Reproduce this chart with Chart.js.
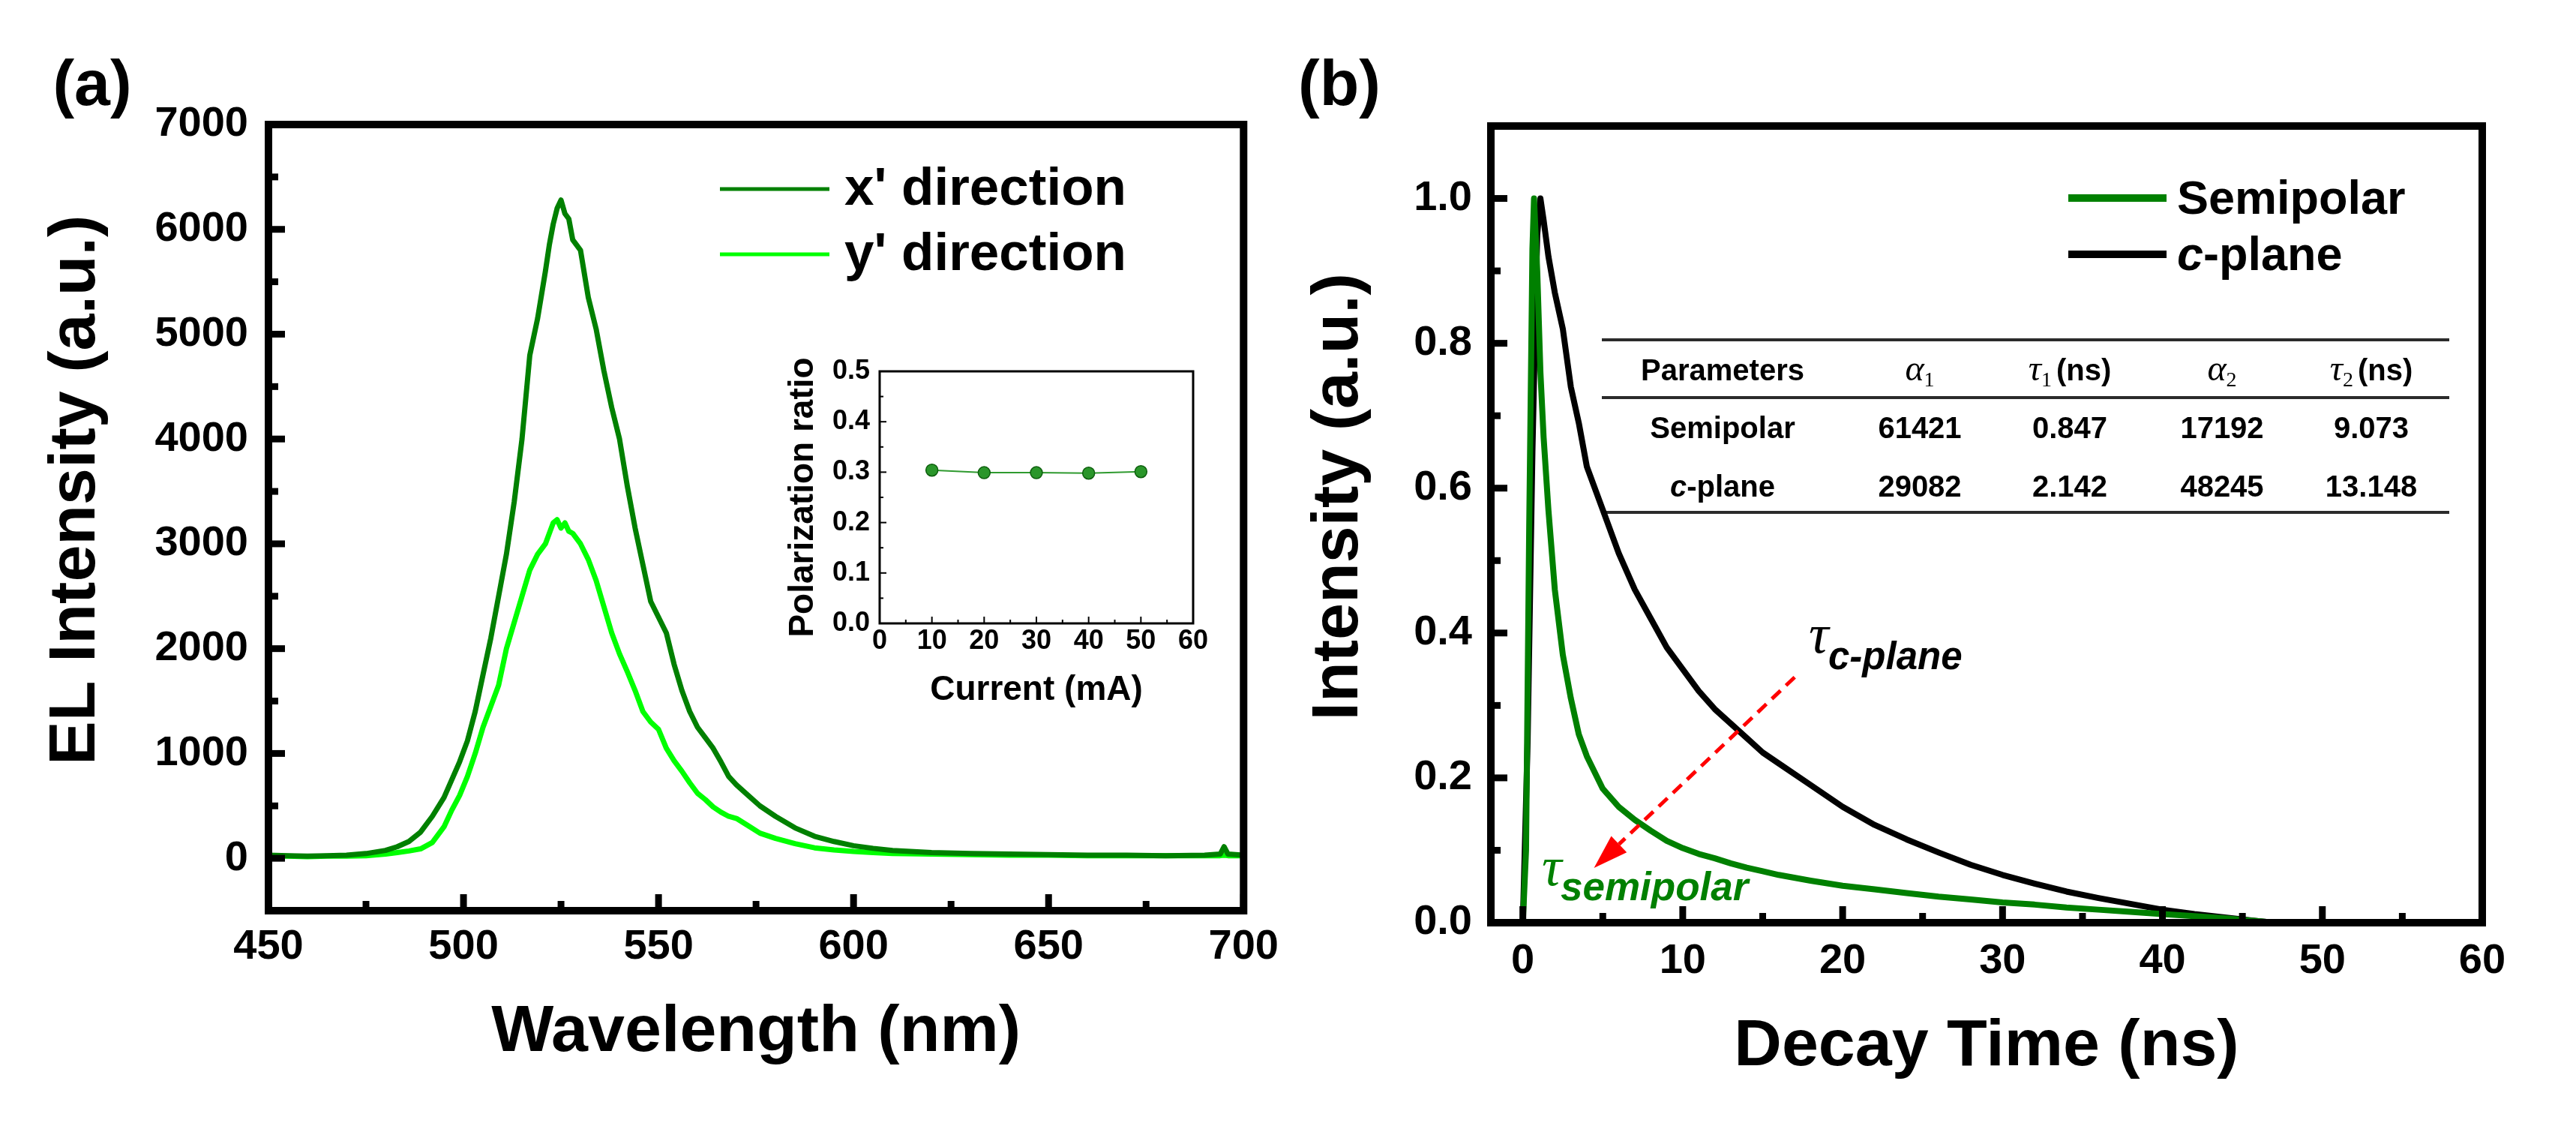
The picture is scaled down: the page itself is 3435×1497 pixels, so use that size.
<!DOCTYPE html>
<html lang="en">
<head>
<meta charset="UTF-8">
<title>EL spectra and TRPL decay</title>
<script src="https://cdn.jsdelivr.net/npm/chart.js"></script>
<style>
  body { margin: 0; background: #fff; }
  #wrap { position: relative; width: 3435px; height: 1497px; overflow: hidden; background: #fff; }
  canvas { position: absolute; }
</style>
</head>
<body>
<div id="wrap">
  <canvas id="elChart" width="1720" height="1497" style="left:0;top:0"></canvas>
  <canvas id="insetChart" width="620" height="540" style="left:1000px;top:440px"></canvas>
  <canvas id="decayChart" width="1715" height="1497" style="left:1720px;top:0"></canvas>
</div>
<script>
const SANS = '"Liberation Sans", Arial, Helvetica, sans-serif';
const SERIF = '"Liberation Serif", "Times New Roman", serif';

// (a) EL spectra
const wavelength = [450, 455, 460, 465, 470, 475, 480, 483, 486, 489, 492, 495, 497, 499, 501, 503, 505, 507, 509, 511,
  513, 515, 517, 519, 521, 522, 523, 524, 525, 526, 527, 528, 529, 530, 532, 534, 536, 538, 540, 542,
  544, 546, 548, 550, 552, 554, 556, 558, 560, 562, 564, 566, 568, 570, 573, 576, 580, 585, 590, 595,
  600, 605, 610, 620, 630, 640, 650, 660, 670, 680, 690, 694, 695, 696, 700];
const xDirection = [30, 25, 20, 25, 30, 45, 75, 110, 160, 250, 400, 580, 750, 920, 1120, 1400, 1750, 2100, 2500, 2900,
  3400, 4000, 4800, 5150, 5600, 5850, 6050, 6200, 6280, 6150, 6100, 5900, 5850, 5800, 5350, 5050, 4650, 4300, 4000, 3550,
  3150, 2800, 2450, 2300, 2150, 1850, 1600, 1400, 1250, 1150, 1050, 920, 780, 700, 600, 500, 400, 290, 210, 160,
  120, 95, 75, 55, 45, 40, 35, 30, 30, 25, 30, 40, 110, 40, 30];
const yDirection = [20, 20, 15, 20, 20, 25, 40, 55, 70, 90, 150, 300, 460, 600, 780, 1000, 1250, 1450, 1650, 2000,
  2250, 2500, 2750, 2900, 3000, 3100, 3200, 3230, 3150, 3200, 3120, 3100, 3050, 3000, 2850, 2650, 2400, 2150, 1950, 1780,
  1600, 1400, 1300, 1230, 1050, 930, 830, 720, 620, 560, 490, 440, 400, 380, 310, 240, 190, 140, 100, 80,
  65, 55, 45, 40, 35, 30, 30, 25, 25, 25, 25, 25, 30, 25, 25];
const elTicksX = [450, 500, 550, 600, 650, 700];
const elTicksY = [0, 1000, 2000, 3000, 4000, 5000, 6000, 7000];

// inset: polarization ratio vs current
const current = [10, 20, 30, 40, 50];
const polRatio = [0.304, 0.299, 0.299, 0.298, 0.301];
const insetTicksX = [0, 10, 20, 30, 40, 50, 60];
const insetTicksY = [0, 0.1, 0.2, 0.3, 0.4, 0.5];

// (b) decay curves
const semiTime = [0, 0.2, 0.4, 0.6, 0.7, 0.9, 1.1, 1.3, 1.6, 2.0, 2.5, 3.0, 3.5, 4.0, 5.0, 6.0, 7.0, 8.0, 9.0, 10,
  11, 12, 13, 14, 15, 16, 18, 20, 22, 24, 26, 28, 30, 32, 34, 36, 38, 40, 42, 44, 45, 46, 47];
const semipolar = [0, 0.1, 0.55, 0.93, 1.0, 0.9, 0.76, 0.67, 0.57, 0.46, 0.37, 0.31, 0.26, 0.23, 0.185, 0.16, 0.142, 0.127, 0.113, 0.103,
  0.095, 0.089, 0.082, 0.076, 0.071, 0.066, 0.058, 0.051, 0.046, 0.041, 0.036, 0.032, 0.028, 0.025, 0.021, 0.018, 0.015, 0.012, 0.009, 0.006, 0.004, 0.002, 0];
const cTime = [0, 0.3, 0.6, 0.9, 1.1, 1.3, 1.6, 2.0, 2.5, 3.0, 3.5, 4.0, 5.0, 6.0, 7.0, 8.0, 9.0, 10, 11, 12,
  13, 14, 15, 16, 18, 20, 22, 24, 26, 28, 30, 32, 34, 36, 38, 40, 42, 44, 46, 47];
const cPlane = [0, 0.25, 0.65, 0.95, 1.0, 0.97, 0.92, 0.87, 0.82, 0.74, 0.69, 0.63, 0.57, 0.51, 0.46, 0.42, 0.38, 0.35, 0.32, 0.295,
  0.275, 0.255, 0.235, 0.22, 0.19, 0.16, 0.135, 0.115, 0.097, 0.08, 0.066, 0.054, 0.043, 0.034, 0.026, 0.018, 0.012, 0.007, 0.002, 0];
const decayTicksX = [0, 10, 20, 30, 40, 50, 60];
const decayTicksY = [0, 0.2, 0.4, 0.6, 0.8, 1.0];

// fit parameters table
const tableRows = ['Semipolar', 'c-plane'];
const alpha1 = ['61421', '29082'];
const tau1 = ['0.847', '2.142'];
const alpha2 = ['17192', '48245'];
const tau2 = ['9.073', '13.148'];

// red arrow between the two decay curves: [time, intensity]
const arrowFrom = [17.0, 0.339];
const arrowTo = [4.45, 0.0755];

function pts(xs, ys) { return xs.map((v, i) => ({ x: v, y: ys[i] })); }
function mids(arr) { const m = []; for (let i = 1; i < arr.length; i++) m.push((arr[i - 1] + arr[i]) / 2); return m; }
function fixTicks(list) { return s => { s.ticks = list.map(v => ({ value: v })); }; }

function drawRich(ctx, parts, x, y, align) {
  let w = 0;
  parts.forEach(p => { ctx.font = p.f; p.w = ctx.measureText(p.t).width; w += p.w + (p.gap || 0); });
  let cx = align === 'center' ? x - w / 2 : x;
  ctx.textAlign = 'left';
  ctx.textBaseline = 'alphabetic';
  parts.forEach(p => {
    ctx.font = p.f;
    ctx.fillStyle = p.c || '#000';
    ctx.fillText(p.t, cx, y + (p.dy || 0));
    cx += p.w + (p.gap || 0);
  });
}

// box frame + inward ticks on bottom and left axes
const frameTicks = {
  id: 'frameTicks',
  afterDraw(chart, args, o) {
    const { ctx, chartArea: a } = chart;
    const sx = chart.scales.x, sy = chart.scales.y;
    ctx.save();
    ctx.strokeStyle = '#000';
    ctx.lineCap = 'butt';
    ctx.lineWidth = o.tickWidth;
    const xt = (v, len) => { const p = sx.getPixelForValue(v); ctx.beginPath(); ctx.moveTo(p, a.bottom); ctx.lineTo(p, a.bottom - len); ctx.stroke(); };
    const yt = (v, len) => { const p = sy.getPixelForValue(v); ctx.beginPath(); ctx.moveTo(a.left, p); ctx.lineTo(a.left + len, p); ctx.stroke(); };
    o.xMajor.forEach(v => xt(v, o.major));
    mids(o.xMajor).forEach(v => xt(v, o.minor));
    o.yMajor.forEach(v => yt(v, o.major));
    mids(o.yMajor).forEach(v => yt(v, o.minor));
    ctx.lineWidth = o.frame;
    ctx.strokeRect(a.left, a.top, a.right - a.left, a.bottom - a.top);
    ctx.restore();
  }
};

// legend drawn inside the plot
const legendLines = {
  id: 'legendLines',
  afterDraw(chart, args, o) {
    const ctx = chart.ctx;
    ctx.save();
    chart.data.datasets.forEach((ds, i) => {
      const y = o.ys[i];
      ctx.strokeStyle = ds.borderColor;
      ctx.lineWidth = o.lineWidth;
      ctx.beginPath(); ctx.moveTo(o.x0, y); ctx.lineTo(o.x1, y); ctx.stroke();
      drawRich(ctx, ds.legendParts || [{ t: ds.label, f: o.font }], o.textX, y + o.shift, 'left');
    });
    ctx.restore();
  }
};

const tickFont = { family: SANS, size: 56, weight: 'bold' };
const titleFont = { family: SANS, size: 88, weight: 'bold' };

// ---------- (a) ----------
new Chart(document.getElementById('elChart'), {
  type: 'scatter',
  data: {
    datasets: [
      { label: "x' direction", data: pts(wavelength, xDirection), showLine: true, borderColor: '#008000', borderWidth: 7,
        pointRadius: 0, borderJoinStyle: 'round' },
      { label: "y' direction", data: pts(wavelength, yDirection), showLine: true, borderColor: '#00ff00', borderWidth: 7,
        pointRadius: 0, borderJoinStyle: 'round' }
    ]
  },
  options: {
    responsive: false, animation: false, devicePixelRatio: 1,
    layout: { padding: { left: 0, top: 166, right: 55, bottom: 0 } },
    plugins: {
      legend: { display: false }, tooltip: { enabled: false },
      frameTicks: { xMajor: elTicksX, yMajor: elTicksY, tickWidth: 9, major: 22, minor: 13, frame: 10 },
      legendLines: { x0: 960, x1: 1106, ys: [252, 339], textX: 1126, shift: 21, lineWidth: 5, font: 'bold 71px ' + SANS }
    },
    scales: {
      x: {
        type: 'linear', min: 450, max: 700, bounds: 'data',
        afterBuildTicks: fixTicks(elTicksX),
        afterFit(s) { s.height = 283; },
        grid: { display: false, drawTicks: false }, border: { display: false },
        ticks: { autoSkip: false, maxRotation: 0, padding: 15, color: '#000', font: tickFont, callback: v => String(v) },
        title: { display: true, text: 'Wavelength (nm)', color: '#000', font: titleFont, padding: { top: 0, bottom: 67 } }
      },
      y: {
        type: 'linear', min: -500, max: 7000, bounds: 'data',
        afterBuildTicks: fixTicks(elTicksY),
        afterFit(s) { s.width = 358; },
        grid: { display: false, drawTicks: false }, border: { display: false },
        ticks: { autoSkip: false, padding: 27, color: '#000', font: tickFont, callback: v => String(v) },
        // leading spaces lift the rotated title a little above the axis centre, as in the original
        title: { display: true, text: '   EL Intensity (a.u.)', color: '#000', font: titleFont, padding: { top: 49, bottom: 0 } }
      }
    }
  },
  plugins: [frameTicks, legendLines, {
    id: 'panelA',
    afterDraw(chart) {
      const ctx = chart.ctx;
      ctx.save();
      drawRich(ctx, [{ t: '(a)', f: 'bold 86px ' + SANS }], 123, 140, 'center');
      ctx.restore();
    }
  }]
});

// ---------- inset ----------
new Chart(document.getElementById('insetChart'), {
  type: 'scatter',
  data: {
    datasets: [{
      label: 'Polarization ratio', data: pts(current, polRatio), showLine: true,
      borderColor: '#2f9a2f', borderWidth: 2, pointRadius: 8,
      pointBackgroundColor: '#2a962a', pointBorderColor: '#0d5e0d', pointBorderWidth: 1.5
    }]
  },
  options: {
    responsive: false, animation: false, devicePixelRatio: 1,
    layout: { padding: { left: 0, top: 55, right: 29, bottom: 0 } },
    plugins: {
      legend: { display: false }, tooltip: { enabled: false },
      frameTicks: { xMajor: insetTicksX, yMajor: insetTicksY, tickWidth: 2, major: 9, minor: 5, frame: 3 }
    },
    scales: {
      x: {
        type: 'linear', min: 0, max: 60, bounds: 'data',
        afterBuildTicks: fixTicks(insetTicksX),
        afterFit(s) { s.height = 149; },
        grid: { display: false, drawTicks: false }, border: { display: false },
        ticks: { autoSkip: false, maxRotation: 0, padding: 2, color: '#000', font: { family: SANS, size: 36, weight: 'bold' },
          callback: v => String(v) },
        title: { display: true, text: 'Current (mA)', color: '#000', font: { family: SANS, size: 46, weight: 'bold' }, padding: { top: 0, bottom: 32 } }
      },
      y: {
        type: 'linear', min: 0, max: 0.5, bounds: 'data',
        afterBuildTicks: fixTicks(insetTicksY),
        afterFit(s) { s.width = 173; },
        grid: { display: false, drawTicks: false }, border: { display: false },
        ticks: { autoSkip: false, padding: 13, color: '#000', font: { family: SANS, size: 36, weight: 'bold' },
          callback: v => v.toFixed(1) },
        title: { display: true, text: 'Polarization ratio', color: '#000', font: { family: SANS, size: 46, weight: 'bold' }, padding: { top: 44, bottom: 0 } }
      }
    }
  },
  plugins: [frameTicks]
});

// ---------- (b) ----------
const tabFont = 'bold 40px ' + SANS;
const greekFont = 'italic 48px ' + SERIF;
const subFont = '28px ' + SERIF;

new Chart(document.getElementById('decayChart'), {
  type: 'scatter',
  data: {
    datasets: [
      { label: 'Semipolar', data: pts(semiTime, semipolar), showLine: true, borderColor: '#008000', borderWidth: 8,
        pointRadius: 0, borderJoinStyle: 'round' },
      { label: 'c-plane', data: pts(cTime, cPlane), showLine: true, borderColor: '#000000', borderWidth: 8,
        pointRadius: 0, borderJoinStyle: 'round',
        legendParts: [{ t: 'c', f: 'italic bold 63px ' + SANS }, { t: '-plane', f: 'bold 63px ' + SANS }] }
    ]
  },
  options: {
    responsive: false, animation: false, devicePixelRatio: 1,
    layout: { padding: { left: 0, top: 168, right: 125, bottom: 0 } },
    plugins: {
      legend: { display: false }, tooltip: { enabled: false },
      frameTicks: { xMajor: decayTicksX, yMajor: decayTicksY, tickWidth: 9, major: 22, minor: 13, frame: 10 },
      legendLines: { x0: 1038, x1: 1169, ys: [264, 339], textX: 1183, shift: 21, lineWidth: 10, font: 'bold 63px ' + SANS }
    },
    scales: {
      x: {
        type: 'linear', min: -2, max: 60, bounds: 'data',
        afterBuildTicks: fixTicks(decayTicksX),
        afterFit(s) { s.height = 267; },
        grid: { display: false, drawTicks: false }, border: { display: false },
        ticks: { autoSkip: false, maxRotation: 0, padding: 18, color: '#000', font: tickFont, callback: v => String(v) },
        title: { display: true, text: 'Decay Time (ns)', color: '#000', font: titleFont, padding: { top: 0, bottom: 48 } }
      },
      y: {
        type: 'linear', min: 0, max: 1.1, bounds: 'data',
        afterBuildTicks: fixTicks(decayTicksY),
        afterFit(s) { s.width = 268; },
        grid: { display: false, drawTicks: false }, border: { display: false },
        ticks: { autoSkip: false, padding: 25, color: '#000', font: tickFont, callback: v => v.toFixed(1) },
        title: { display: true, text: '   Intensity (a.u.)', color: '#000', font: titleFont, padding: { top: 13, bottom: 0 } }
      }
    }
  },
  plugins: [{
    id: 'fitTable',
    beforeDatasetsDraw(chart) {
      const ctx = chart.ctx;
      ctx.save();
      ctx.strokeStyle = '#2b2b2b';
      ctx.lineWidth = 4;
      [453, 530, 683].forEach(y => { ctx.beginPath(); ctx.moveTo(416, y); ctx.lineTo(1546, y); ctx.stroke(); });
      const cols = [577, 840, 1040, 1243, 1442];
      drawRich(ctx, [{ t: 'Parameters', f: tabFont }], cols[0], 507, 'center');
      drawRich(ctx, [{ t: 'α', f: greekFont }, { t: '1', f: subFont, dy: 8 }], cols[1], 507, 'center');
      drawRich(ctx, [{ t: 'τ', f: greekFont }, { t: '1', f: subFont, dy: 8, gap: 6 }, { t: '(ns)', f: tabFont }], cols[2], 507, 'center');
      drawRich(ctx, [{ t: 'α', f: greekFont }, { t: '2', f: subFont, dy: 8 }], cols[3], 507, 'center');
      drawRich(ctx, [{ t: 'τ', f: greekFont }, { t: '2', f: subFont, dy: 8, gap: 6 }, { t: '(ns)', f: tabFont }], cols[4], 507, 'center');
      [584, 662].forEach((y, r) => {
        const name = tableRows[r].startsWith('c-')
          ? [{ t: 'c', f: 'italic ' + tabFont }, { t: tableRows[r].slice(1), f: tabFont }]
          : [{ t: tableRows[r], f: tabFont }];
        drawRich(ctx, name, cols[0], y, 'center');
        drawRich(ctx, [{ t: alpha1[r], f: tabFont }], cols[1], y, 'center');
        drawRich(ctx, [{ t: tau1[r], f: tabFont }], cols[2], y, 'center');
        drawRich(ctx, [{ t: alpha2[r], f: tabFont }], cols[3], y, 'center');
        drawRich(ctx, [{ t: tau2[r], f: tabFont }], cols[4], y, 'center');
      });
      ctx.restore();
    },
    afterDraw(chart) {
      const ctx = chart.ctx;
      const sx = chart.scales.x, sy = chart.scales.y;
      ctx.save();
      // dashed red arrow
      const x1 = sx.getPixelForValue(arrowFrom[0]), y1 = sy.getPixelForValue(arrowFrom[1]);
      const x2 = sx.getPixelForValue(arrowTo[0]), y2 = sy.getPixelForValue(arrowTo[1]);
      const len = Math.hypot(x2 - x1, y2 - y1), ux = (x2 - x1) / len, uy = (y2 - y1) / len;
      const head = 46, half = 15;
      const bx = x2 - ux * head, by = y2 - uy * head;
      ctx.strokeStyle = '#ff0000';
      ctx.lineWidth = 5;
      ctx.setLineDash([16, 10]);
      ctx.beginPath(); ctx.moveTo(x1, y1); ctx.lineTo(bx, by); ctx.stroke();
      ctx.setLineDash([]);
      ctx.fillStyle = '#ff0000';
      ctx.beginPath();
      ctx.moveTo(x2, y2);
      ctx.lineTo(bx - uy * half, by + ux * half);
      ctx.lineTo(bx + uy * half, by - ux * half);
      ctx.closePath(); ctx.fill();
      // lifetime labels
      drawRich(ctx, [{ t: 'τ', f: 'italic 74px ' + SERIF }], 692, 870, 'left');
      drawRich(ctx, [{ t: 'c-plane', f: 'italic bold 51px ' + SANS }], 718, 892, 'left');
      drawRich(ctx, [{ t: 'τ', f: 'italic 74px ' + SERIF, c: '#008000' }], 336, 1180, 'left');
      drawRich(ctx, [{ t: 'semipolar', f: 'italic bold 53px ' + SANS, c: '#008000' }], 361, 1200, 'left');
      // panel label
      drawRich(ctx, [{ t: '(b)', f: 'bold 86px ' + SANS }], 66, 140, 'center');
      ctx.restore();
    }
  }, frameTicks, legendLines]
});
</script>
</body>
</html>
